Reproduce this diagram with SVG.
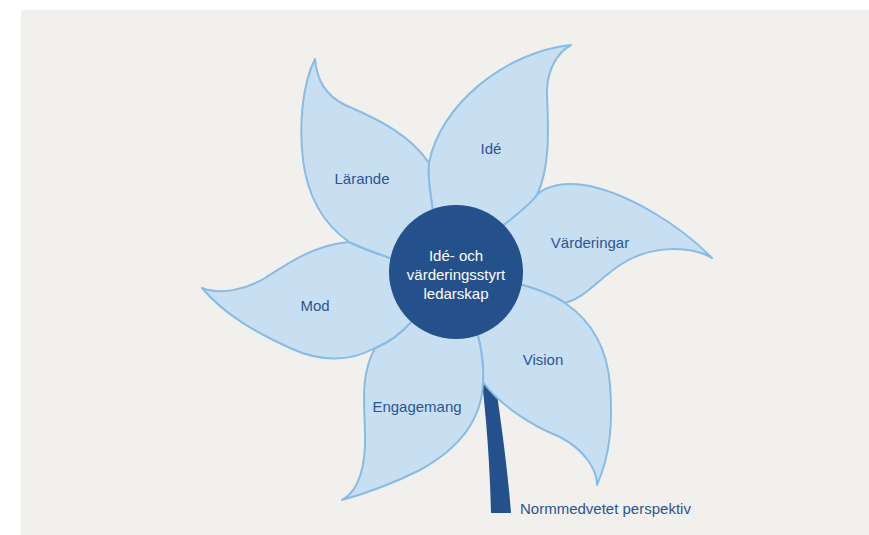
<svg xmlns="http://www.w3.org/2000/svg" width="869" height="535" viewBox="0 0 869 535">
  <style>
    .petal { fill: #c8dff2; stroke: #88bbe6; stroke-width: 2; stroke-linejoin: round; }
    .lbl { font-family: "Liberation Sans", Arial, sans-serif; font-size: 15px; fill: #2b5592; text-anchor: middle; }
    .ctr { font-family: "Liberation Sans", Arial, sans-serif; font-size: 15px; fill: #ffffff; text-anchor: middle; }
    .dark { fill: #24518c; }
  </style>
  <rect x="0" y="0" width="869" height="535" fill="#ffffff"/>
  <rect x="21" y="10" width="848" height="525" fill="#f1f0ec"/>

  <g id="stem">
    <path class="dark" d="M480,365 L493,365 C499,410 507,460 511,513 L491,513 C490,470 487,420 480,365 Z"/>
  </g>

  <g id="petal-ide">
    <path class="petal" d="M433,212 C431,195 427,178 429,163 C440,105 505,52 571,45 C558,52 546,70 547,95 C548,125 551,165 537,195 C530,205 515,216 500,228 L456,272 Z"/>
    <text class="lbl" x="491" y="154">Idé</text>
  </g>
  <g id="petal-varderingar">
    <path class="petal" d="M500,228 C515,216 530,205 537,195 C545,186 565,181 590,186 C630,195 680,225 712,258 C690,245 650,245 620,265 C595,282 585,298 565,303 C555,296 540,290 519,284 L456,272 Z"/>
    <text class="lbl" x="590" y="248">Värderingar</text>
  </g>
  <g id="petal-vision">
    <path class="petal" d="M519,284 C540,290 555,296 565,303 C590,320 607,345 610,385 C613,425 610,455 597,485 C597,470 585,450 560,437 C530,425 500,405 483,382 C484,365 482,350 477,332 L456,272 Z"/>
    <text class="lbl" x="543" y="365">Vision</text>
  </g>
  <g id="petal-engagemang">
    <path class="petal" d="M477,332 C482,350 484,365 483,382 C482,420 460,448 420,470 C390,485 360,495 342,500 C352,495 364,480 365,445 C366,410 358,380 375,348 C388,343 400,335 413,320 L456,272 Z"/>
    <text class="lbl" x="417" y="412">Engagemang</text>
  </g>
  <g id="petal-mod">
    <path class="petal" d="M413,320 C400,335 388,343 375,348 C350,362 320,362 290,348 C255,332 225,315 202,288 C220,295 245,290 265,278 C290,262 315,245 349,242 C362,248 378,254 393,259 L456,272 Z"/>
    <text class="lbl" x="315" y="311">Mod</text>
  </g>
  <g id="petal-larande">
    <path class="petal" d="M393,259 C378,254 362,248 349,242 C325,225 308,200 303,160 C299,125 302,85 315,59 C317,80 325,95 345,105 C380,120 410,135 429,163 C427,178 431,195 433,212 L456,272 Z"/>
    <text class="lbl" x="362" y="184">Lärande</text>
  </g>

  <g id="center">
    <circle class="dark" cx="456" cy="272" r="67"/>
    <text class="ctr" x="456" y="261">Idé- och</text>
    <text class="ctr" x="456" y="280">värderingsstyrt</text>
    <text class="ctr" x="456" y="299">ledarskap</text>
  </g>

  <g id="stem-label">
    <text class="lbl" x="520" y="514" style="text-anchor:start">Normmedvetet perspektiv</text>
  </g>
</svg>
